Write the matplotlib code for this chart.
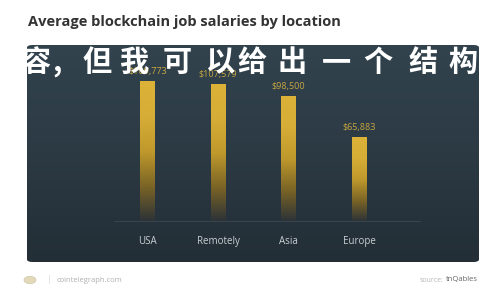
import matplotlib
matplotlib.use("Agg")
import matplotlib.pyplot as plt
import numpy as np
from matplotlib.patches import FancyBboxPatch, Circle
from matplotlib.colors import LinearSegmentedColormap

# data
locations = ["USA", "Remotely", "Asia", "Europe"]
salaries = [109773, 107579, 98500, 65883]
value_labels = ["$109,773", "$107,579", "$98,500", "$65,883"]
title = "Average blockchain job salaries by location"
overlay = "容,但我可以给出一个结构"
site = "cointelegraph.com"
source_name = "tnQables"

W, H = 500, 300
fig = plt.figure(figsize=(W / 100, H / 100), dpi=100)
fig.patch.set_facecolor("white")


def fx(px):
    return px / W


def fy(py):
    return 1 - py / H


# dark panel
pl, pt, pr, pb = 27, 45, 479, 262
bg = fig.add_axes([fx(pl), fy(pb), fx(pr - pl), (pb - pt) / H])
bg.set_xlim(0, 1)
bg.set_ylim(0, 1)
bg.axis("off")
panel_cmap = LinearSegmentedColormap.from_list("panel", ["#232e36", "#2c3a44", "#32434e"])
grad = np.linspace(0, 1, 256).reshape(-1, 1)
box = FancyBboxPatch((0, 0), 1, 1, boxstyle="round,pad=0,rounding_size=0.012",
                     transform=bg.transAxes, facecolor="none", edgecolor="none")
bg.add_patch(box)
im = bg.imshow(grad, cmap=panel_cmap, aspect="auto", extent=[0, 1, 0, 1], origin="lower")
im.set_clip_path(box)

# bar axes
ax_l, ax_r, ax_top, ax_base = 112, 430, 45, 222
ax = fig.add_axes([fx(ax_l), fy(ax_base), fx(ax_r - ax_l), (ax_base - ax_top) / H])
ax.patch.set_alpha(0)
for s in ax.spines.values():
    s.set_visible(False)
ax.set_xticks([])
ax.set_yticks([])

x = np.arange(len(locations))
bars = ax.bar(x, salaries, width=0.21, color="none")
bar_cmap = LinearSegmentedColormap.from_list(
    "bar", ["#2a3138", "#7a6426", "#bf992c", "#d6ad36", "#dcb238"])
for b in bars:
    x0 = b.get_x()
    w, h = b.get_width(), b.get_height()
    g = ax.imshow(grad, cmap=bar_cmap, aspect="auto",
                  extent=[x0, x0 + w, 0, h], origin="lower", zorder=2)
    g.set_clip_path(b)

ax.set_xlim(-0.5, 4.0)
ax.set_ylim(0, 138000)
ax.axhline(0, color="#3b4a55", lw=1.2, xmin=0.01, xmax=0.97)

for xi, v, lab in zip(x, salaries, value_labels):
    ax.text(xi, v + 4000, lab, ha="center", va="bottom", fontsize=6.5,
            color="#c9a640", family="Open Sans")
    ax.text(xi, -15500, locations[xi], ha="center", va="center", fontsize=7,
            color="#c9cfd4", family="Open Sans")

# overlay text across the top of the panel (sits over the value labels, as in the source)
cjk = ["Noto Sans CJK SC", "DejaVu Sans"]
centers = [36, 57, 97, 134, 177, 220, 252, 292, 336, 378, 423, 463]
for ch, cx in zip(overlay, centers):
    fig.text(fx(cx), fy(62), ch, ha="center", va="center", fontsize=21,
             fontweight="black", color="white", family=cjk)

# title
fig.text(fx(28), fy(22), title, ha="left", va="center", fontsize=10.5,
         fontweight="bold", color="#333333", family="Open Sans")

# footer
fig.patches.append(Circle((fx(30), fy(280)), 0.012, transform=fig.transFigure,
                          facecolor="#e3d9b8", edgecolor="#cfc6a8", lw=0.5))
fig.text(fx(49), fy(280), "|", ha="center", va="center", fontsize=6, color="#dddddd")
fig.text(fx(57), fy(280), site, ha="left", va="center", fontsize=5.5,
         color="#b0b0b0", family="Open Sans")
src = fig.text(fx(478), fy(280), source_name, ha="right", va="center", fontsize=5.5,
               color="#666666", family="Open Sans")
fig.canvas.draw()
src_w = src.get_window_extent().width
fig.text(fx(478) - (src_w + 2) / W, fy(280), "source:", ha="right", va="center",
         fontsize=5, color="#b8b8b8", family="Open Sans")

fig.savefig("out.png", dpi=100, facecolor="white")
